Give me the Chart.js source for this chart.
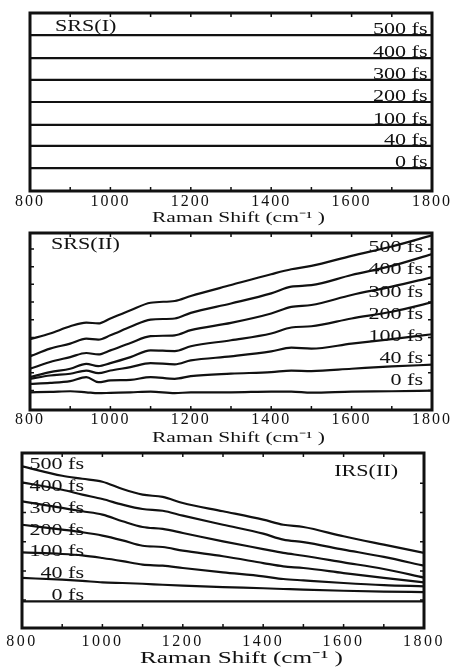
<!DOCTYPE html>
<html>
<head>
<meta charset="utf-8">
<script src="https://cdn.jsdelivr.net/npm/chart.js@4.4.1/dist/chart.umd.min.js"></script>
<style>
  html, body { margin: 0; padding: 0; background: #fff; overflow: hidden; }
  canvas { position: absolute; left: 0; display: block; }
</style>
</head>
<body>
<canvas id="srs1" width="455" height="228" style="top:0px"></canvas>
<canvas id="srs2" width="455" height="220" style="top:228px"></canvas>
<canvas id="irs2" width="455" height="221" style="top:448px"></canvas>
<script>
// Pump-probe delays, bottom trace first
const delays = ['0 fs', '40 fs', '100 fs', '200 fs', '300 fs', '400 fs', '500 fs'];

// x tick values (Raman shift, cm^-1)
const shiftTicks = [800, 1000, 1200, 1400, 1600, 1800];
const axisTitle = 'Raman Shift (cm\u207B\u00B9 )';

// SRS(I): flat traces
const shiftI = [800, 1800];
const srsI_0fs = [1.29, 1.29];
const srsI_40fs = [2.53, 2.53];
const srsI_100fs = [3.71, 3.71];
const srsI_200fs = [5.00, 5.00];
const srsI_300fs = [6.24, 6.24];
const srsI_400fs = [7.47, 7.47];
const srsI_500fs = [8.76, 8.76];

// SRS(II)
const shiftII = [800, 850, 900, 940, 970, 1000, 1050, 1100, 1160, 1200, 1300, 1400, 1450, 1500, 1600, 1700, 1800];
const srsII_0fs = [1.00, 1.02, 1.06, 1.00, 0.95, 0.97, 1.00, 1.04, 0.95, 1.00, 1.00, 1.04, 1.04, 0.98, 1.04, 1.06, 1.10];
const srsII_40fs = [1.48, 1.53, 1.63, 1.86, 1.57, 1.67, 1.70, 1.86, 1.76, 1.91, 2.05, 2.14, 2.23, 2.20, 2.33, 2.46, 2.56];
const srsII_100fs = [1.76, 1.95, 2.05, 2.23, 2.08, 2.23, 2.42, 2.65, 2.58, 2.80, 3.03, 3.31, 3.52, 3.47, 3.75, 4.00, 4.28];
const srsII_200fs = [1.86, 2.14, 2.33, 2.61, 2.48, 2.65, 2.99, 3.37, 3.33, 3.60, 3.94, 4.32, 4.66, 4.73, 5.17, 5.55, 6.08];
const srsII_300fs = [2.33, 2.71, 2.99, 3.22, 3.14, 3.37, 3.79, 4.17, 4.22, 4.51, 4.92, 5.45, 5.83, 5.93, 6.50, 6.97, 7.50];
const srsII_400fs = [3.03, 3.47, 3.75, 4.03, 3.98, 4.22, 4.70, 5.11, 5.17, 5.49, 6.02, 6.59, 6.97, 7.05, 7.63, 8.14, 8.81];
const srsII_500fs = [4.00, 4.32, 4.73, 4.94, 4.89, 5.17, 5.64, 6.06, 6.16, 6.44, 7.06, 7.67, 7.95, 8.14, 8.71, 9.24, 9.87];

// IRS(II)
const shiftIII = [800, 900, 950, 1000, 1050, 1100, 1150, 1200, 1300, 1400, 1450, 1500, 1600, 1700, 1800];
const irsII_0fs = [1.52, 1.52, 1.52, 1.52, 1.52, 1.52, 1.52, 1.52, 1.52, 1.52, 1.52, 1.52, 1.52, 1.52, 1.52];
const irsII_40fs = [2.86, 2.76, 2.69, 2.61, 2.57, 2.53, 2.47, 2.42, 2.34, 2.27, 2.23, 2.19, 2.13, 2.08, 2.05];
const irsII_100fs = [4.32, 4.23, 4.15, 4.00, 3.82, 3.62, 3.56, 3.43, 3.18, 2.95, 2.80, 2.72, 2.57, 2.45, 2.38];
const irsII_200fs = [5.90, 5.62, 5.47, 5.28, 5.01, 4.70, 4.63, 4.42, 4.10, 3.71, 3.52, 3.43, 3.14, 2.86, 2.61];
const irsII_300fs = [7.24, 6.86, 6.67, 6.48, 6.10, 5.77, 5.66, 5.43, 4.95, 4.51, 4.29, 4.13, 3.75, 3.37, 2.88];
const irsII_400fs = [8.32, 7.90, 7.62, 7.37, 7.05, 6.80, 6.70, 6.42, 5.90, 5.39, 5.05, 4.91, 4.48, 4.06, 3.56];
const irsII_500fs = [9.24, 8.70, 8.53, 8.36, 7.94, 7.62, 7.49, 7.14, 6.67, 6.19, 5.90, 5.77, 5.24, 4.76, 4.29];

// Inward y tick marks on the frame sides
const yTicksSRSII = [1.1, 2.1, 3.1, 4.1, 5.1, 6.1, 7.1, 8.1, 9.1];
const yTicksIRSII = [1.6, 3.26, 4.93, 6.6, 8.27];

const INK = '#111111';
const SERIF = '"Liberation Serif", "Times New Roman", serif';

function points(xs, ys) {
  return xs.map((x, i) => ({ x: x, y: ys[i] }));
}

// Horizontally widened serif text, fitted to a given width when one is set
function wideText(ctx, text, px, py, size, sx, align, baseline, width) {
  ctx.save();
  ctx.letterSpacing = '0px';
  ctx.font = size + 'px ' + SERIF;
  ctx.textAlign = align;
  ctx.textBaseline = baseline;
  if (width) sx = width / ctx.measureText(text).width;
  ctx.translate(px, py);
  ctx.scale(sx, 1);
  ctx.fillText(text, 0, 0);
  ctx.restore();
}

// Frame, inward ticks, axis title and annotations
const framePlugin = {
  id: 'frame',
  beforeDraw(chart, args, opts) {
    chart.ctx.letterSpacing = opts.spacing;
  },
  afterDraw(chart, args, opts) {
    const { ctx, chartArea: a, scales: { x, y } } = chart;
    ctx.save();
    ctx.letterSpacing = '0px';
    ctx.strokeStyle = INK;
    ctx.fillStyle = INK;

    // inward tick marks
    ctx.lineWidth = 1.5;
    ctx.beginPath();
    x.ticks.forEach(t => {
      const px = x.getPixelForValue(t.value);
      ctx.moveTo(px, a.top); ctx.lineTo(px, a.top + 4);
      ctx.moveTo(px, a.bottom); ctx.lineTo(px, a.bottom - 4);
    });
    (opts.yTicks || []).forEach(v => {
      const py = y.getPixelForValue(v);
      ctx.moveTo(a.left, py); ctx.lineTo(a.left + 4, py);
      ctx.moveTo(a.right, py); ctx.lineTo(a.right - 4, py);
    });
    ctx.stroke();

    // frame
    ctx.lineWidth = 3;
    ctx.strokeRect(a.left, a.top, a.right - a.left, a.bottom - a.top);

    // x axis title
    const at = opts.axisTitle;
    wideText(ctx, axisTitle, at.cx, a.bottom + at.dy, at.size, 1, 'center', 'middle', at.width);

    // panel name
    const t = opts.title;
    wideText(ctx, t.text, t.align === 'right' ? a.right - t.dx : a.left + t.dx, a.top + t.dy, 17, 1.3, t.align, 'middle');

    // delay labels
    const L = opts.labels;
    chart.data.datasets.forEach((ds, i) => {
      let lx, ly, baseline;
      if (L.mode === 'line') {
        const last = ds.data[ds.data.length - 1];
        lx = a.right - L.dx;
        ly = y.getPixelForValue(last.y) - 1;
        baseline = 'alphabetic';
      } else {
        const row = chart.data.datasets.length - 1 - i;
        lx = L.side === 'left' ? a.left + L.dx : a.right - L.dx;
        ly = a.top + L.first + row * L.step;
        baseline = 'middle';
      }
      wideText(ctx, ds.label, lx, ly, 16, 1.38, 'right', baseline);
    });
    ctx.restore();
  }
};

function makeChart(id, xs, rows, cfg) {
  const datasets = rows.map((ys, i) => ({
    label: delays[i],
    data: points(xs, ys),
    borderColor: INK,
    borderWidth: 2.2,
    pointRadius: 0,
    fill: false,
    cubicInterpolationMode: 'monotone'
  }));
  return new Chart(document.getElementById(id), {
    type: 'line',
    data: { datasets: datasets },
    plugins: [framePlugin],
    options: {
      responsive: false,
      animation: false,
      events: [],
      layout: { padding: cfg.padding },
      plugins: {
        legend: { display: false },
        tooltip: { enabled: false },
        frame: {
          spacing: cfg.spacing,
          yTicks: cfg.yTicks,
          title: cfg.title,
          labels: cfg.labels,
          axisTitle: cfg.axisTitle
        }
      },
      scales: {
        x: {
          type: 'linear',
          position: 'bottom',
          min: 800,
          max: 1800,
          grid: { display: false, drawTicks: false },
          border: { display: false },
          ticks: {
            stepSize: 100,
            autoSkip: false,
            maxRotation: 0,
            padding: cfg.tickPad,
            color: INK,
            font: { family: SERIF, size: 16, lineHeight: 1 },
            callback: v => (shiftTicks.includes(v) ? String(v) : '')
          },
          title: { display: false, text: axisTitle },
          afterFit: s => { s.height = cfg.axisHeight; }
        },
        y: {
          type: 'linear',
          min: 0,
          max: 10,
          display: false
        }
      }
    }
  });
}

makeChart('srs1', shiftI,
  [srsI_0fs, srsI_40fs, srsI_100fs, srsI_200fs, srsI_300fs, srsI_400fs, srsI_500fs], {
    padding: { top: 13, left: 30, right: 23, bottom: 2 },
    spacing: '2px',
    tickPad: 3,
    axisHeight: 35,
    yTicks: [],
    axisTitle: { cx: 238.5, dy: 27.5, size: 15, width: 173 },
    title: { text: 'SRS(I)', align: 'left', dx: 25, dy: 14 },
    labels: { mode: 'line', dx: 4.5 }
  });

makeChart('srs2', shiftII,
  [srsII_0fs, srsII_40fs, srsII_100fs, srsII_200fs, srsII_300fs, srsII_400fs, srsII_500fs], {
    padding: { top: 5, left: 30, right: 23, bottom: 1 },
    spacing: '2px',
    tickPad: 2,
    axisHeight: 37,
    yTicks: yTicksSRSII,
    axisTitle: { cx: 238.5, dy: 28.5, size: 15, width: 173 },
    title: { text: 'SRS(II)', align: 'left', dx: 21, dy: 12 },
    labels: { mode: 'stack', side: 'right', dx: 9, first: 15, step: 22.2 }
  });

makeChart('irs2', shiftIII,
  [irsII_0fs, irsII_40fs, irsII_100fs, irsII_200fs, irsII_300fs, irsII_400fs, irsII_500fs], {
    padding: { top: 5, left: 22, right: 31, bottom: 0 },
    spacing: '2.5px',
    tickPad: 6,
    axisHeight: 41,
    yTicks: yTicksIRSII,
    axisTitle: { cx: 241.5, dy: 30, size: 17.5, width: 203 },
    title: { text: 'IRS(II)', align: 'right', dx: 26, dy: 19 },
    labels: { mode: 'stack', side: 'left', dx: 62, first: 12, step: 21.8 }
  });
</script>
</body>
</html>
